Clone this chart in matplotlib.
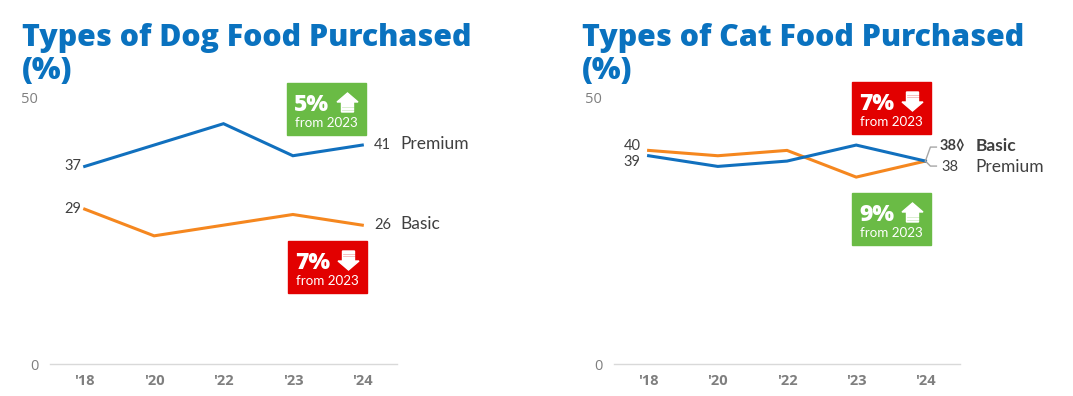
import matplotlib
matplotlib.use("Agg")
import matplotlib.pyplot as plt
from matplotlib.patches import Rectangle, Polygon

# ---------------- data ----------------
years = ["'18", "'20", "'22", "'23", "'24"]
dog_premium = [37, 41, 45, 39, 41]
dog_basic = [29, 24, 26, 28, 26]
cat_blue = [39, 37, 38, 41, 38]     # drawn in blue
cat_orange = [40, 39, 40, 35, 38]   # drawn in orange
dog_title = "Types of Dog Food Purchased\n(%)"
cat_title = "Types of Cat Food Purchased\n(%)"
dog_badges = [("5%", "up", "from 2023"), ("7%", "down", "from 2023")]
cat_badges = [("7%", "down", "from 2023"), ("9%", "up", "from 2023")]

BLUE = "#1170BE"
ORANGE = "#F5871F"
TITLE = "#0A72BF"
GREEN = "#6ABB45"
RED = "#E20000"
DARK = "#404040"
GRAY = "#7F7F7F"

W, H = 1073, 396
fig = plt.figure(figsize=(W / 100, H / 100), dpi=100)
fig.patch.set_facecolor("white")

HEAVY = ["Open Sans", "DejaVu Sans"]
LIGHT = ["Lato", "DejaVu Sans"]


def make_ax(x0, x1, y50, y0):
    ax = fig.add_axes([x0 / W, (H - y0) / H, (x1 - x0) / W, (y0 - y50) / H])
    ax.set_xlim(-0.5, len(years) - 0.5)
    ax.set_ylim(0, 50)
    for s in ["top", "right", "left", "bottom"]:
        ax.spines[s].set_visible(False)
    ax.axhline(0, color="#D9D9D9", lw=1, zorder=0, clip_on=False)
    ax.set_yticks([0, 50])
    ax.set_yticklabels(["0", "50"], color=GRAY, fontsize=10.5, family=["Open Sans", "DejaVu Sans"])
    ax.tick_params(axis="y", length=0, pad=8.5)
    ax.set_xticks(range(len(years)))
    ax.set_xticklabels(years, color=GRAY, fontsize=10.5, fontweight="bold",
                       family=["Open Sans", "DejaVu Sans"])
    ax.tick_params(axis="x", length=0, pad=7)
    ax.patch.set_alpha(0)
    return ax


axL = make_ax(50, 397, 97, 364)
axR = make_ax(614, 960, 97, 364)

x = list(range(len(years)))
axL.plot(x, dog_premium, color=BLUE, lw=2.2, solid_joinstyle="miter")
axL.plot(x, dog_basic, color=ORANGE, lw=2.2, solid_joinstyle="miter")
axR.plot(x, cat_orange, color=ORANGE, lw=2.2, solid_joinstyle="miter")
axR.plot(x, cat_blue, color=BLUE, lw=2.2, solid_joinstyle="miter")

lab_kw = dict(textcoords="offset pixels", color=DARK, fontsize=10.5, family=LIGHT, va="center")

# left chart labels
axL.annotate(str(dog_premium[0]), (0, dog_premium[0]), xytext=(-3, 0), ha="right", **lab_kw)
axL.annotate(str(dog_basic[0]), (0, dog_basic[0]), xytext=(-3, 0), ha="right", **lab_kw)
axL.annotate(str(dog_premium[-1]), (4, dog_premium[-1]), xytext=(12, 0), ha="left", **lab_kw)
axL.annotate("Premium", (4, dog_premium[-1]), xytext=(38, 1), ha="left",
             **{**lab_kw, "fontsize": 12.5})
axL.annotate(str(dog_basic[-1]), (4, dog_basic[-1]), xytext=(12, 0), ha="left", **lab_kw)
axL.annotate("Basic", (4, dog_basic[-1]), xytext=(38, 1), ha="left",
             **{**lab_kw, "fontsize": 12.5})

# right chart labels
axR.annotate(str(cat_orange[0]), (0, cat_orange[0]), xytext=(-8, 4), ha="right", **lab_kw)
axR.annotate(str(cat_blue[0]), (0, cat_blue[0]), xytext=(-8, -6), ha="right", **lab_kw)
axR.annotate(f"{cat_orange[-1]}\u25CA", (4, cat_orange[-1]), xytext=(14, 15), ha="left",
             **{**lab_kw, "fontweight": "bold"})
axR.annotate("Basic", (4, cat_orange[-1]), xytext=(50, 15), ha="left",
             **{**lab_kw, "fontsize": 12.5, "fontweight": "bold"})
axR.annotate(str(cat_blue[-1]), (4, cat_blue[-1]), xytext=(16, -6), ha="left", **lab_kw)
axR.annotate("Premium", (4, cat_blue[-1]), xytext=(50, -6), ha="left",
             **{**lab_kw, "fontsize": 12.5})

# overlay for decorations (pixel coords, origin top-left)
ov = fig.add_axes([0, 0, 1, 1], zorder=5)
ov.set_xlim(0, W)
ov.set_ylim(H, 0)
ov.axis("off")
ov.patch.set_alpha(0)

# titles
for tx, title in [(22, dog_title), (582, cat_title)]:
    l1, l2 = title.split("\n")
    ov.text(tx, 46, l1, color=TITLE, fontsize=21.8, fontweight=800,
            family=HEAVY, va="baseline", ha="left")
    ov.text(tx, 79, l2, color=TITLE, fontsize=21.8, fontweight=800,
            family=HEAVY, va="baseline", ha="left")

# connector in right chart
fig.canvas.draw()
px, py = axR.transData.transform((4, cat_orange[-1]))
py = H - py
ov.plot([px, px + 5, px + 11], [py, py - 14, py - 14], color="#A6A6A6", lw=1)
ov.plot([px, px + 5, px + 11], [py, py + 5, py + 5], color="#A6A6A6", lw=1)


def badge(x0, y0, color, pct, direction, sub):
    w, h = 79, 52
    ov.add_patch(Rectangle((x0, y0), w, h, color=color, zorder=1))
    ov.text(x0 + 7, y0 + 28, pct, color="white", fontsize=16.5, fontweight=800,
            family=HEAVY, va="baseline", ha="left", zorder=2)
    ov.text(x0 + 8, y0 + 44, sub, color="white", fontsize=9.6, family=LIGHT,
            va="baseline", ha="left", zorder=2)
    ax0 = x0 + 50
    aw, hh, sw = 21, 9, 12
    top = y0 + 10
    bot = y0 + 29
    cx = ax0 + aw / 2
    if direction == "up":
        pts = [(cx, top), (ax0 + aw, top + hh), (cx + sw / 2, top + hh), (cx + sw / 2, bot),
               (cx - sw / 2, bot), (cx - sw / 2, top + hh), (ax0, top + hh)]
        stripes = [bot - 5, bot - 2.5]
    else:
        pts = [(cx, bot), (ax0 + aw, bot - hh), (cx + sw / 2, bot - hh), (cx + sw / 2, top),
               (cx - sw / 2, top), (cx - sw / 2, bot - hh), (ax0, bot - hh)]
        stripes = [top + 2.5, top + 5]
    ov.add_patch(Polygon(pts, closed=True, color="white", zorder=2))
    for s in stripes:
        ov.plot([cx - sw / 2, cx + sw / 2], [s, s], color=color, lw=0.5, zorder=3, alpha=0.35)


badge(287, 83, GREEN, *dog_badges[0])
badge(288, 241, RED, *dog_badges[1])
badge(852, 82, RED, *cat_badges[0])
badge(852, 193, GREEN, *cat_badges[1])

fig.savefig("out.png", dpi=100)
